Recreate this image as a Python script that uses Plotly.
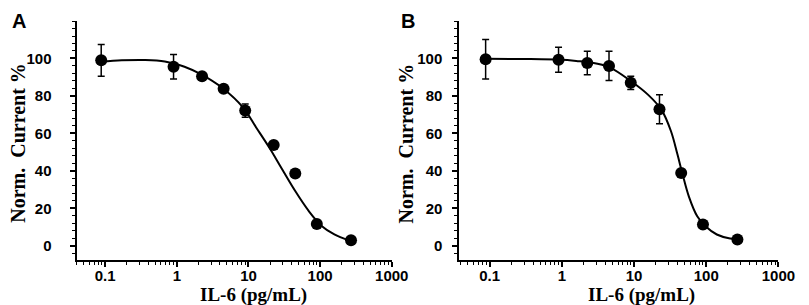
import plotly.graph_objects as go

# ---------------- data ----------------
conc = [0.088, 0.9, 2.25, 4.5, 9, 22.5, 45, 90, 270]
current_a = [99.0, 95.6, 90.5, 83.8, 72.2, 53.9, 38.7, 11.7, 3.0]
error_a = [8.5, 6.5, 1.5, 1.2, 3.5, 1.5, 1.0, 1.0, 0.5]
current_b = [99.6, 99.3, 97.6, 96.0, 87.0, 72.9, 38.9, 11.4, 3.4]
error_b = [10.5, 6.7, 6.3, 7.8, 3.5, 7.7, 1.0, 1.0, 0.5]

# fitted curves (concentration, value)
fit_a_x = [0.088, 0.17, 0.36, 0.68, 1.28, 2.16, 4.37, 8.43, 12.8, 19.5, 29.5, 44.7, 69.2, 105, 158, 251]
fit_a_y = [98.2, 99.0, 99.2, 98.4, 95.6, 91.6, 84.1, 73.8, 63.2, 52.5, 40.9, 29.4, 18.7, 10.7, 6.2, 3.0]
fit_b_x = [0.088, 0.32, 1.0, 1.58, 2.5, 4.5, 9.3, 15.7, 23.9, 32.4, 39.8, 46.8, 57.5, 75.0, 97.7, 140, 214, 288]
fit_b_y = [99.8, 99.7, 99.3, 98.7, 97.9, 95.4, 87.6, 80.6, 72.7, 61.3, 49.0, 38.5, 26.3, 15.8, 10.5, 6.1, 4.0, 3.8]

xticks = [0.1, 1, 10, 100, 1000]
xticklabels = ["0.1", "1", "10", "100", "1000"]
yticks = [0, 20, 40, 60, 80, 100]

W, H = 809, 305
minor_x = [m * 10 ** e for e in range(-2, 3) for m in range(2, 10)]
minor_x = [v for v in minor_x if 0.039 < v < 1000]

fig = go.Figure()

for (xa, ya, fx, fy, yv, ev) in [("x", "y", fit_a_x, fit_a_y, current_a, error_a),
                                  ("x2", "y2", fit_b_x, fit_b_y, current_b, error_b)]:
    fig.add_trace(go.Scatter(x=fx, y=fy, mode="lines", xaxis=xa, yaxis=ya,
                             line=dict(color="black", width=2, shape="spline", smoothing=1.0),
                             showlegend=False, hoverinfo="skip"))
    fig.add_trace(go.Scatter(x=conc, y=yv, mode="markers", xaxis=xa, yaxis=ya,
                             marker=dict(color="black", size=12),
                             error_y=dict(type="data", array=ev, visible=True,
                                          color="black", thickness=1.5, width=3.5),
                             showlegend=False))

tickfont = dict(family="Liberation Sans, Arial, sans-serif", size=15, color="black", weight="bold")

def xaxis(domain, rng, anchor):
    return dict(domain=domain, type="log", range=rng, anchor=anchor,
                showline=True, linecolor="black", linewidth=2,
                showgrid=False, zeroline=False,
                tickmode="array", tickvals=xticks, ticktext=xticklabels,
                ticks="outside", ticklen=5, tickwidth=1.5, tickcolor="black",
                tickfont=tickfont, ticklabelstandoff=-4,
                minor=dict(tickmode="array", tickvals=minor_x, ticks="outside",
                           ticklen=3, tickwidth=1.2, tickcolor="black", showgrid=False))

def yaxis(domain, anchor, standoff):
    return dict(domain=domain, range=[-7.5, 120], anchor=anchor,
                showline=True, linecolor="black", linewidth=2,
                showgrid=False, zeroline=False,
                tickmode="array", tickvals=yticks,
                ticks="outside", ticklen=5, tickwidth=1.5, tickcolor="black",
                tickfont=tickfont, ticklabelstandoff=standoff,
                minor=dict(dtick=4, tick0=0, ticks="outside", ticklen=3,
                           tickwidth=1.2, tickcolor="black", showgrid=False))

ydom = [(H - 252) / H, (H - 13) / H]
fig.update_layout(
    width=W, height=H,
    margin=dict(l=0, r=0, t=0, b=0),
    paper_bgcolor="white", plot_bgcolor="white",
    xaxis=xaxis([70 / W, 392 / W], [-1.4, 3.0], "y"),
    yaxis=yaxis(ydom, "x", 15),
    xaxis2=xaxis([461 / W, 787 / W], [-1.42, 3.0], "y2"),
    yaxis2=yaxis(ydom, "x2", 7),
)

xtitle_font = dict(family="Liberation Serif, Times New Roman, serif", size=19, color="black")
ytitle_font = dict(family="Liberation Serif, Times New Roman, serif", size=20, color="black")
panel_font = dict(family="Liberation Sans, Arial, sans-serif", size=20, color="black")
ann = []
for cx, ycx, label, px in [(251, 10, "A", 11), (647, 407, "B", 409)]:
    ann.append(dict(text="<b>IL-6 (pg/mL)</b>", x=cx / W, y=(H - 287) / H, xref="paper", yref="paper",
                    showarrow=False, font=xtitle_font, xanchor="center", yanchor="middle"))
    ann.append(dict(text="<b>Norm.  Current %</b>", x=ycx / W, y=(H - 135) / H, xref="paper", yref="paper",
                    showarrow=False, font=ytitle_font, textangle=-90, xanchor="center", yanchor="middle"))
    ann.append(dict(text="<b>" + label + "</b>", x=px / W, y=(H - 13) / H, xref="paper", yref="paper",
                    showarrow=False, font=panel_font, xanchor="center", yanchor="middle"))
fig.update_layout(annotations=ann)

fig.write_html("out.html")
